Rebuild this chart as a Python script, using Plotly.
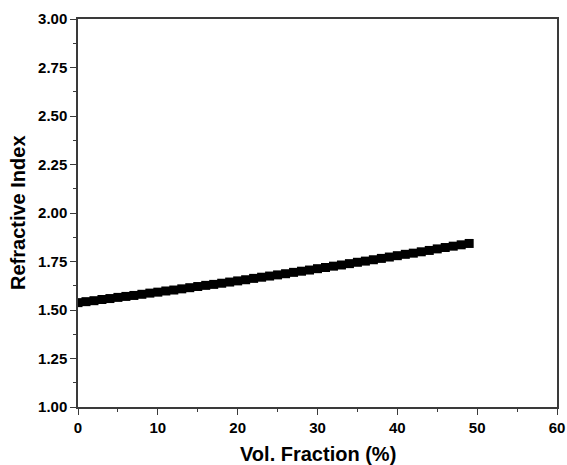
import plotly.graph_objects as go

vol_fraction = list(range(0, 50))
refractive_index = [
    1.538, 1.543, 1.548, 1.554, 1.559, 1.565, 1.570, 1.575, 1.581, 1.587,
    1.592, 1.598, 1.603, 1.609, 1.615, 1.621, 1.627, 1.632, 1.638, 1.644,
    1.650, 1.656, 1.663, 1.669, 1.675, 1.681, 1.687, 1.694, 1.700, 1.706,
    1.713, 1.719, 1.726, 1.732, 1.739, 1.746, 1.752, 1.759, 1.766, 1.773,
    1.780, 1.787, 1.793, 1.800, 1.807, 1.815, 1.822, 1.829, 1.836, 1.843,
]
y_ticks = [1.00, 1.25, 1.50, 1.75, 2.00, 2.25, 2.50, 2.75, 3.00]
x_ticks = [0, 10, 20, 30, 40, 50, 60]
x_title = "Vol. Fraction (%)"
y_title = "Refractive Index"

FONT = "Liberation Sans, Arial, sans-serif"

fig = go.Figure()
fig.add_trace(go.Scatter(
    x=vol_fraction, y=refractive_index, mode="markers",
    marker=dict(symbol="square", size=9, color="black", line=dict(width=0)),
    showlegend=False,
))

axis_common = dict(
    showline=True, linecolor="#3a3a3a", linewidth=1.5, mirror=True,
    ticks="outside", ticklen=6, tickwidth=1.2, tickcolor="#3a3a3a",
    showgrid=False, zeroline=False, automargin=False,
    tickfont=dict(family=FONT, size=15, color="black", weight="bold"),
)

fig.update_layout(
    width=567, height=465,
    margin=dict(l=78, r=10, t=19, b=58),
    paper_bgcolor="white", plot_bgcolor="white",
    font=dict(family=FONT, color="black"),
    xaxis=dict(
        range=[0, 60], tickvals=x_ticks, ticktext=[str(v) for v in x_ticks],
        minor=dict(ticks="outside", ticklen=3, tickwidth=1.2, tickcolor="#3a3a3a", dtick=5, tick0=0),
        **axis_common,
    ),
    yaxis=dict(
        range=[1.0, 3.0], tickvals=y_ticks, ticktext=[f"{v:.2f}" for v in y_ticks],
        minor=dict(ticks="outside", ticklen=3, tickwidth=1.2, tickcolor="#3a3a3a", dtick=0.125, tick0=1.0),
        **axis_common,
    ),
    annotations=[
        dict(text=f"<b>{x_title}</b>", xref="paper", yref="paper", x=0.5, y=0,
             yshift=-47, xanchor="center", yanchor="middle", showarrow=False,
             font=dict(family=FONT, size=20, color="black")),
        dict(text=f"<b>{y_title}</b>", xref="paper", yref="paper", x=0, y=0.5,
             xshift=-60, xanchor="center", yanchor="middle", showarrow=False, textangle=-90,
             font=dict(family=FONT, size=20, color="black")),
    ],
)

fig.write_html("out.html", config={"displayModeBar": False})

# remove the default page margin so the figure sits at the window's corner
with open("out.html", "r", encoding="utf-8") as f:
    html = f.read()
html = html.replace("<head>", "<head><style>html,body{margin:0;padding:0;overflow:hidden;}</style>", 1)
with open("out.html", "w", encoding="utf-8") as f:
    f.write(html)
